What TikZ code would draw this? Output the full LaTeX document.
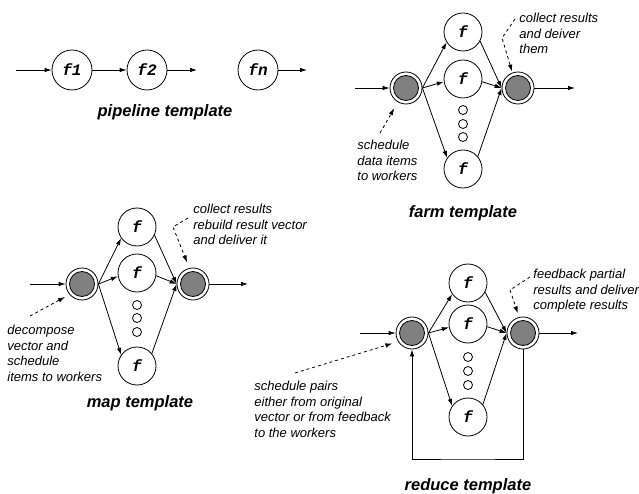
\documentclass[tikz,border=0pt]{standalone}
\usepackage{fontspec}
\usepackage{xcolor}
\usetikzlibrary{arrows.meta}
\newfontfamily\helv{Liberation Sans}
\newfontfamily\cour{Liberation Mono}
\definecolor{hubgray}{gray}{0.5}

\tikzset{
  worker/.style={circle, draw, minimum size=38pt, inner sep=0pt,
    font=\cour\bfseries\itshape\fontsize{16}{16}\selectfont},
  hub/.style={circle, draw, minimum size=32pt, inner sep=0pt,
    path picture={\filldraw[fill=hubgray] (path picture bounding box.center) circle (12.5pt);}},
  pdot/.style={circle, draw, minimum size=9pt, inner sep=0pt},
  notetext/.style={anchor=north west, inner sep=0pt, align=left,
    font=\helv\itshape\fontsize{13}{15.5}\selectfont},
  tmpl/.style={inner sep=0pt, font=\helv\bfseries\itshape\fontsize{16.5}{20}\selectfont},
  conn/.style={-{Latex[length=7pt,width=4.5pt]}},
  hint/.style={conn, dash pattern=on 3pt off 3pt},
}

\begin{document}
\begin{tikzpicture}[x=1pt,y=-1pt,line width=0.8pt]
\useasboundingbox (0,0) rectangle (639,494);

% pipeline
\node[worker, minimum size=40pt] (f1) at (72,70) {f1};
\node[worker, minimum size=40pt] (f2) at (147,70) {f2};
\node[worker, minimum size=40pt] (fn) at (258,70) {fn};
\coordinate (pipesrc) at (16,70);
\coordinate (f2snk) at (197,70);
\coordinate (pipesnk) at (307,70);
\draw[conn] (pipesrc)--(f1);
\draw[conn] (f1)--(f2);
\draw[conn] (f2)--(f2snk);
\draw[conn] (fn)--(pipesnk);
\node[tmpl] (pipetitle) at (165,112) {pipeline template};

% farm
\node[hub] (farmin) at (406,88) {};
\node[hub] (farmout) at (518,88) {};
\node[worker] (farmw1) at (463,32) {f};
\node[worker] (farmw2) at (463,79) {f};
\node[pdot] (farmd1) at (463,110) {};
\node[pdot] (farmd2) at (463,124) {};
\node[pdot] (farmd3) at (463,137) {};
\node[worker] (farmw3) at (463,169) {f};
\coordinate (farmsrc) at (355,88);
\coordinate (farmsnk) at (575,88);
\draw[conn] (farmsrc)--(farmin);
\draw[conn] (farmout)--(farmsnk);
\draw[conn] (farmin.east)--(farmw1.212);
\draw[conn] (farmin.east)--(farmw2.188);
\draw[conn] (farmin.east)--(farmw3.145);
\draw[conn] (farmw1.-28)--(farmout.west);
\draw[conn] (farmw2.-8)--(farmout.west);
\draw[conn] (farmw3.40)--(farmout.west);

\node[notetext] (farmnote1) at (519,13) {collect results\\and deiver\\them};
\coordinate (farmhint1) at (515,19);
\coordinate (farmbend1) at (502,38);
\draw[hint, shorten >=1pt] (farmhint1)--(farmbend1)--(farmout.110);
\node[notetext] (farmnote2) at (357,140) {schedule\\data items\\to workers};
\coordinate (farmhint2) at (380,133);
\draw[hint, shorten >=7pt] (farmhint2)--(farmin.240);
\node[tmpl] (farmtitle) at (463,213) {farm template};

% map
\node[hub] (mapin) at (82,284) {};
\node[hub] (mapout) at (193,284) {};
\node[worker] (mapw1) at (137,227) {f};
\node[worker] (mapw2) at (137,273) {f};
\node[pdot] (mapd1) at (137,305) {};
\node[pdot] (mapd2) at (137,318) {};
\node[pdot] (mapd3) at (137,332) {};
\node[worker] (mapw3) at (137,366) {f};
\coordinate (mapsrc) at (30,284);
\coordinate (mapsnk) at (248,284);
\draw[conn] (mapsrc)--(mapin);
\draw[conn] (mapout)--(mapsnk);
\draw[conn] (mapin.east)--(mapw1.215);
\draw[conn] (mapin.east)--(mapw2.190);
\draw[conn] (mapin.east)--(mapw3.145);
\draw[conn] (mapw1.-25)--(mapout.west);
\draw[conn] (mapw2.-8)--(mapout.west);
\draw[conn] (mapw3.40)--(mapout.west);

\node[notetext] (mapnote1) at (193,204) {collect results\\rebuild result vector\\and deliver it};
\coordinate (maphint1) at (188,218);
\coordinate (mapbend1) at (173,227);
\draw[hint, shorten >=6pt] (maphint1)--(mapbend1)--(mapout.103);
\node[notetext] (mapnote2) at (7,325) {decompose\\vector and\\schedule\\items to workers};
\coordinate (maphint2) at (30,316);
\draw[hint, shorten >=5pt] (maphint2)--(mapin.220);
\node[tmpl] (maptitle) at (140,403) {map template};

% reduce
\node[hub] (redin) at (412,333) {};
\node[hub] (redout) at (523,333) {};
\node[worker] (redw1) at (468,283) {f};
\node[worker] (redw2) at (468,324) {f};
\node[pdot] (redd1) at (468,357) {};
\node[pdot] (redd2) at (468,371) {};
\node[pdot] (redd3) at (468,385) {};
\node[worker] (redw3) at (468,417) {f};
\coordinate (redsrc) at (360,333);
\coordinate (redsnk) at (578,333);
\coordinate (redloop) at (468,459);
\draw[conn] (redsrc)--(redin);
\draw[conn] (redout)--(redsnk);
\draw[conn] (redin.east)--(redw1.215);
\draw[conn] (redin.east)--(redw2.190);
\draw[conn] (redin.east)--(redw3.145);
\draw[conn] (redw1.-28)--(redout.west);
\draw[conn] (redw2.-8)--(redout.west);
\draw[conn] (redw3.40)--(redout.west);
\draw[conn] (redout) |- (redloop) -| (redin);

\node[notetext] (rednote1) at (533,269) {feedback partial\\results and deliver\\complete results};
\coordinate (redhint1) at (530,277);
\coordinate (redbend1) at (510,290);
\draw[hint, shorten >=4pt] (redhint1)--(redbend1)--(redout.104);
\node[notetext] (rednote2) at (254,381) {schedule pairs\\either from original\\vector or from feedback\\to the workers};
\coordinate (redhint2) at (295,373);
\draw[hint, shorten >=6pt] (redhint2)--(redin.212);
\node[tmpl] (redtitle) at (468,486) {reduce template};

\end{tikzpicture}
\end{document}
